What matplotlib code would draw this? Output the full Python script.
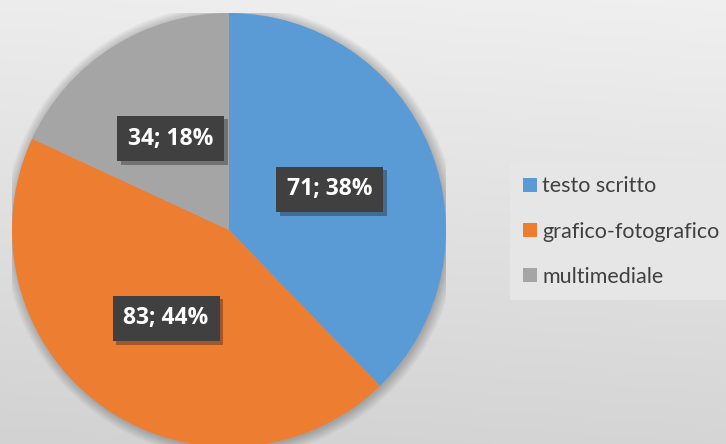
import numpy as np
import matplotlib
matplotlib.use("Agg")
import matplotlib.pyplot as plt
from matplotlib import patheffects as pe
from matplotlib.patches import Circle

categories = ["testo scritto", "grafico-fotografico", "multimediale"]
values = [71, 83, 34]
colors = ["#5B9BD5", "#ED7D31", "#A5A5A5"]

W, H = 726, 444
fig = plt.figure(figsize=(W / 100, H / 100), dpi=100)

# background gradient
bg = fig.add_axes([0, 0, 1, 1], zorder=-5)
yy, xx = np.mgrid[0:H, 0:W]
v = 0.94 - 0.105 * (yy / H) - 0.012 * (1 - xx / W)
bg.imshow(np.dstack([v, v, v]), aspect="auto", extent=[0, W, H, 0])
bg.set_axis_off()

# pie axes: centre (229, 230) px, radius 217 px
cx, cy, r = 229, 230, 217
ax = fig.add_axes([(cx - r) / W, (H - cy - r) / H, 2 * r / W, 2 * r / H])

# soft shadow around the pie
for i in range(10):
    ax.add_patch(Circle((0.006, -0.006), 1 + 0.005 * i, color="black",
                        alpha=0.025, lw=0, zorder=0))

total = sum(values)
wedges, texts, autotexts = ax.pie(
    values, colors=colors, startangle=90, counterclock=False,
    autopct=lambda p: f"{round(p * total / 100)}; {p:.0f}%",
    pctdistance=0.5, radius=1, wedgeprops=dict(linewidth=0, zorder=1),
    textprops=dict(color="white", fontsize=16.5, fontweight="bold",
                   family=["Open Sans", "DejaVu Sans"]))
ax.set_xlim(-1, 1)
ax.set_ylim(-1, 1)
ax.set_axis_off()

for t in autotexts:
    t.set_bbox(dict(boxstyle="square,pad=0.47", facecolor="#404040",
                    edgecolor="none", linewidth=0))
    t.set_zorder(5)
    t.get_bbox_patch().set_path_effects(
        [pe.SimplePatchShadow(offset=(2.5, -2.5), alpha=0.35), pe.Normal()])

leg = fig.legend(wedges, categories, loc="upper left",
                 bbox_to_anchor=(510 / W, 1 - 163 / H),
                 frameon=True, facecolor="#e6e6e6", edgecolor="none",
                 fancybox=False, framealpha=1,
                 prop=dict(family=["Lato", "DejaVu Sans"], size=15.5),
                 handlelength=0.62, handleheight=0.62, handletextpad=0.25,
                 labelspacing=1.17, borderpad=0.62, borderaxespad=0)
for t in leg.get_texts():
    t.set_color("#404040")

fig.savefig("out.png", dpi=100)
